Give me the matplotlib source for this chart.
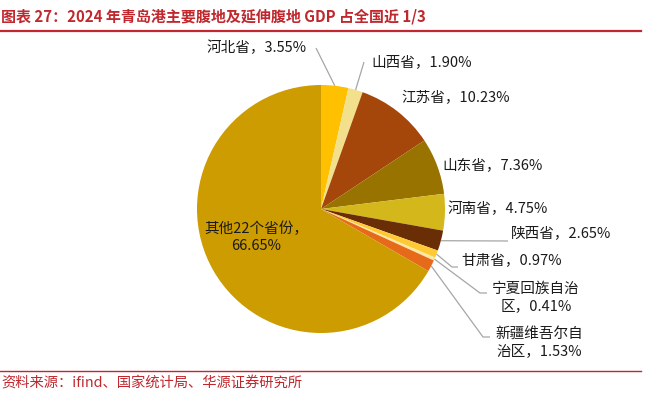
import numpy as np
import matplotlib
matplotlib.use("Agg")
import matplotlib.pyplot as plt

plt.rcParams['font.family'] = ['Noto Sans CJK SC', 'DejaVu Sans']

# ---- data ----
regions = ["河北省", "山西省", "江苏省", "山东省", "河南省", "陕西省", "甘肃省",
           "宁夏回族自治区", "新疆维吾尔自治区", "其他22个省份"]
shares = [3.55, 1.90, 10.23, 7.36, 4.75, 2.65, 0.97, 0.41, 1.53, 66.65]
label_texts = ["河北省，3.55%", "山西省，1.90%", "江苏省，10.23%", "山东省，7.36%",
               "河南省，4.75%", "陕西省，2.65%", "甘肃省，0.97%",
               "宁夏回族自治\n区，0.41%", "新疆维吾尔自\n治区，1.53%",
               "其他22个省份，\n66.65%"]
colors = ["#FFC000", "#F3E08C", "#A5460A", "#987300", "#D4B71B",
          "#6A2E06", "#FFC934", "#FCE8A0", "#E66A1A", "#CC9C00"]

title = "图表 27：2024 年青岛港主要腹地及延伸腹地 GDP 占全国近 1/3"
source = "资料来源：ifind、国家统计局、华源证券研究所"

W, H = 658, 398
fig = plt.figure(figsize=(W / 100, H / 100), dpi=100)
ax = fig.add_axes([0, 0, 1, 1])

def py(y):
    return H - y

red = "#C0282E"
cx, cy, R = 321, py(209), 124

wedges, _ = ax.pie(shares, colors=colors, startangle=90, counterclock=False,
                   center=(cx, cy), radius=R, frame=True,
                   wedgeprops=dict(linewidth=0))
ax.set_xlim(0, W)
ax.set_ylim(0, H)
ax.set_aspect('equal')
ax.axis('off')

# label layout: (x, y, ha, elbow points list or None)
layout = {
    0: (307, 48, 'right', [(316, 48)]),
    1: (371, 62, 'left', [(364, 62)]),
    2: (401, 98, 'left', None),
    3: (442, 165, 'left', None),
    4: (448, 209, 'left', None),
    5: (511, 233, 'left', [(508, 241)]),
    6: (461, 260, 'left', [(452, 267), (458, 267)]),
    7: (536, 297, 'center', [(480, 293), (487, 293)]),
    8: (539, 342, 'center', [(483, 337), (490, 337)]),
    9: (256, 237, 'center', None),
}

lc = "#A6A6A6"
fs = 10.5
for i, w in enumerate(wedges):
    x, y, ha, elbows = layout[i]
    ax.text(x, py(y), label_texts[i], ha=ha, va='center', fontsize=fs,
            color="#1A1A1A", linespacing=1.3)
    if elbows:
        th = np.deg2rad((w.theta1 + w.theta2) / 2)
        ex = w.center[0] + w.r * np.cos(th)
        ey = w.center[1] + w.r * np.sin(th)
        xs = [ex] + [p[0] for p in elbows]
        ys = [ey] + [py(p[1]) for p in elbows]
        ax.plot(xs, ys, color=lc, lw=0.9, solid_capstyle='butt')

# title & decorations
ax.text(1, py(17), title, ha='left', va='center', fontsize=10.8,
        fontweight='bold', color=red)
ax.plot([0, 641], [py(31), py(31)], color=red, lw=1.6)
ax.plot([0, 641], [py(371), py(371)], color=red, lw=1.0)
ax.text(1, py(384), source, ha='left', va='center', fontsize=10.3, color=red)

fig.savefig("out.png", dpi=100)
